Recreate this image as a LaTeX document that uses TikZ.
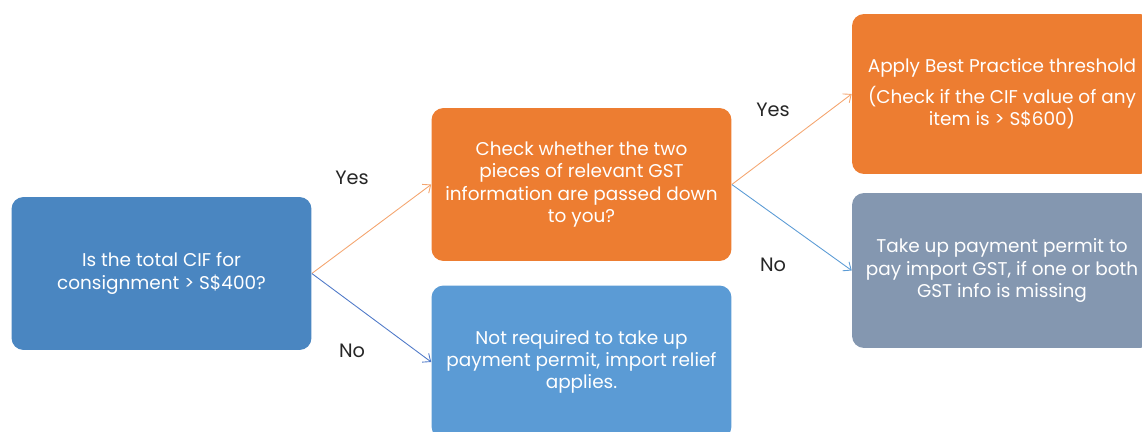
\documentclass[tikz,border=0pt]{standalone}
\usepackage{fontspec}
\setmainfont{Poppins}
\usepackage{tikz}
\usetikzlibrary{arrows}
\usetikzlibrary{arrows.meta}
\tikzset{>={Straight Barb[width=2.2mm,length=1.3mm]}}

\definecolor{qblue}{HTML}{4A86C1}
\definecolor{lblue}{HTML}{5B9BD5}
\definecolor{orng}{HTML}{ED7D31}
\definecolor{slate}{HTML}{8497B0}
\definecolor{yesline}{HTML}{F4A56F}
\definecolor{noline}{HTML}{4F79C8}

\tikzset{
  box/.style={rectangle, rounded corners=2.4mm, minimum width=6cm, minimum height=3.06cm,
    align=center, text=white, font=\fontsize{10.5}{12.6}\selectfont, inner sep=0pt},
  answer/.style={font=\fontsize{11}{13}\selectfont, text=black!85},
  yesarrow/.style={->, draw=yesline, line width=0.5pt},
  noarrow/.style={->, draw=noline, line width=0.5pt}
}

\begin{document}
\begin{tikzpicture}[x=0.02cm,y=0.02cm]
  % Page frame
  \useasboundingbox (0,0) rectangle (1142,432);
  \clip (0,0) rectangle (1142,432);

  % Boxes
  \node[box, fill=qblue] (total) at (161.5,158.5) {Is the total CIF for\\consignment > S\$400?};
  \node[box, fill=orng] (check) at (581.5,247.5) {Check whether the two\\pieces of relevant GST\\information are passed down\\to you?};
  \node[box, fill=lblue] (relief) at (581.5,70) {Not required to take up\\payment permit, import relief\\applies.};
  \node[box, fill=orng, minimum height=3.2cm] (best) at (1002,338) {Apply Best Practice threshold\\[5pt](Check if the CIF value of any\\item is > S\$600)};
  \node[box, fill=slate, minimum height=3.1cm] (permit) at (1002,161.5) {Take up payment permit to\\pay import GST, if one or both\\GST info is missing};

  % Arrows
  \draw[yesarrow] (total.east) -- (check.west);
  \draw[noarrow] (total.east) -- (relief.west);
  \draw[yesarrow] (check.east) -- (best.west);
  \draw[noarrow, draw=lblue] (check.east) -- (permit.west);

  % Answers
  \node[answer] (yes1) at (352,254) {Yes};
  \node[answer] (no1) at (352,81) {No};
  \node[answer] (yes2) at (773,322) {Yes};
  \node[answer] (no2) at (773,167) {No};
\end{tikzpicture}
\end{document}
